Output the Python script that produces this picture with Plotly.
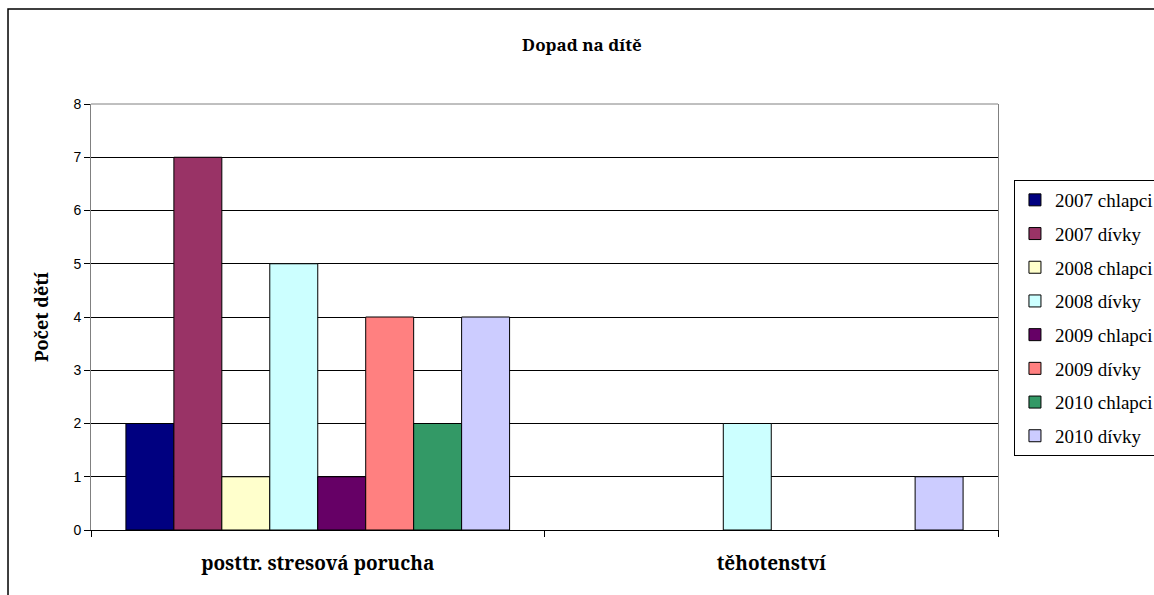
import plotly.graph_objects as go

categories = ["posttr. stresová porucha", "těhotenství"]
series_names = [
    "2007 chlapci", "2007 dívky",
    "2008 chlapci", "2008 dívky",
    "2009 chlapci", "2009 dívky",
    "2010 chlapci", "2010 dívky",
]
series_values = [
    [2, 0],
    [7, 0],
    [1, 0],
    [5, 2],
    [1, 0],
    [4, 0],
    [2, 0],
    [4, 1],
]
series_colors = [
    "#000080", "#993366", "#FFFFCC", "#CCFFFF",
    "#660066", "#FF8080", "#339966", "#CCCCFF",
]
y_ticks = [0, 1, 2, 3, 4, 5, 6, 7, 8]

SERIF = "'Liberation Serif'"
BOLD_SERIF = "Noto Serif"
SANS = "'Liberation Sans', Arial, sans-serif"

fig = go.Figure()
for name, vals, col in zip(series_names, series_values, series_colors):
    # empty (zero) bars are left undrawn
    fig.add_trace(go.Bar(
        name=name, x=categories, y=[v if v else None for v in vals],
        marker=dict(color=col, line=dict(color="black", width=1)),
        legendgroup=name,
    ))

fig.update_layout(
    width=1154, height=595,
    margin=dict(l=91, r=156, t=104, b=65, autoexpand=False),
    paper_bgcolor="white", plot_bgcolor="white",
    barmode="group", bargap=0.154, bargroupgap=0,
    title=dict(
        text="Dopad na dítě",
        font=dict(family=BOLD_SERIF, size=17, color="black", weight=700),
        x=0.5043, xref="container", xanchor="center",
        y=1 - 45 / 595, yref="container", yanchor="middle",
    ),
    legend=dict(
        x=1.0176, y=0.8216, xanchor="left", yanchor="top",
        font=dict(family=SERIF, size=19, color="black"),
        bordercolor="black", borderwidth=1, bgcolor="white",
        itemwidth=30, tracegroupgap=6, traceorder="grouped",
    ),
    showlegend=True,
)

fig.update_xaxes(
    type="category",
    showline=True, linecolor="black", linewidth=1,
    ticks="outside", tickson="boundaries", ticklen=6, tickcolor="black",
    tickfont=dict(family=BOLD_SERIF, size=19, color="black", weight=700),
    ticklabelstandoff=16,
    showgrid=False,
)
fig.update_yaxes(
    range=[0, 8], tickvals=y_ticks,
    showline=True, linecolor="#808080", linewidth=1, mirror=True,
    ticks="outside", ticklen=6, tickcolor="black",
    tickfont=dict(family=SANS, size=14, color="black"),
    showgrid=True, gridcolor="black", gridwidth=1,
    zeroline=False,
    title=dict(text="Počet dětí",
               font=dict(family=BOLD_SERIF, size=18, color="black", weight=700),
               standoff=20),
)

# grey top edge of the plot area and the outer chart frame
fig.add_shape(type="line", xref="paper", yref="paper",
              x0=0, x1=1, y0=1, y1=1,
              line=dict(color="#808080", width=1))
fig.add_shape(type="rect", xref="paper", yref="paper",
              x0=-0.0915, x1=1.2, y0=-0.2, y1=1.223,
              line=dict(color="black", width=1.5), layer="below")

fig.write_html("out.html")
